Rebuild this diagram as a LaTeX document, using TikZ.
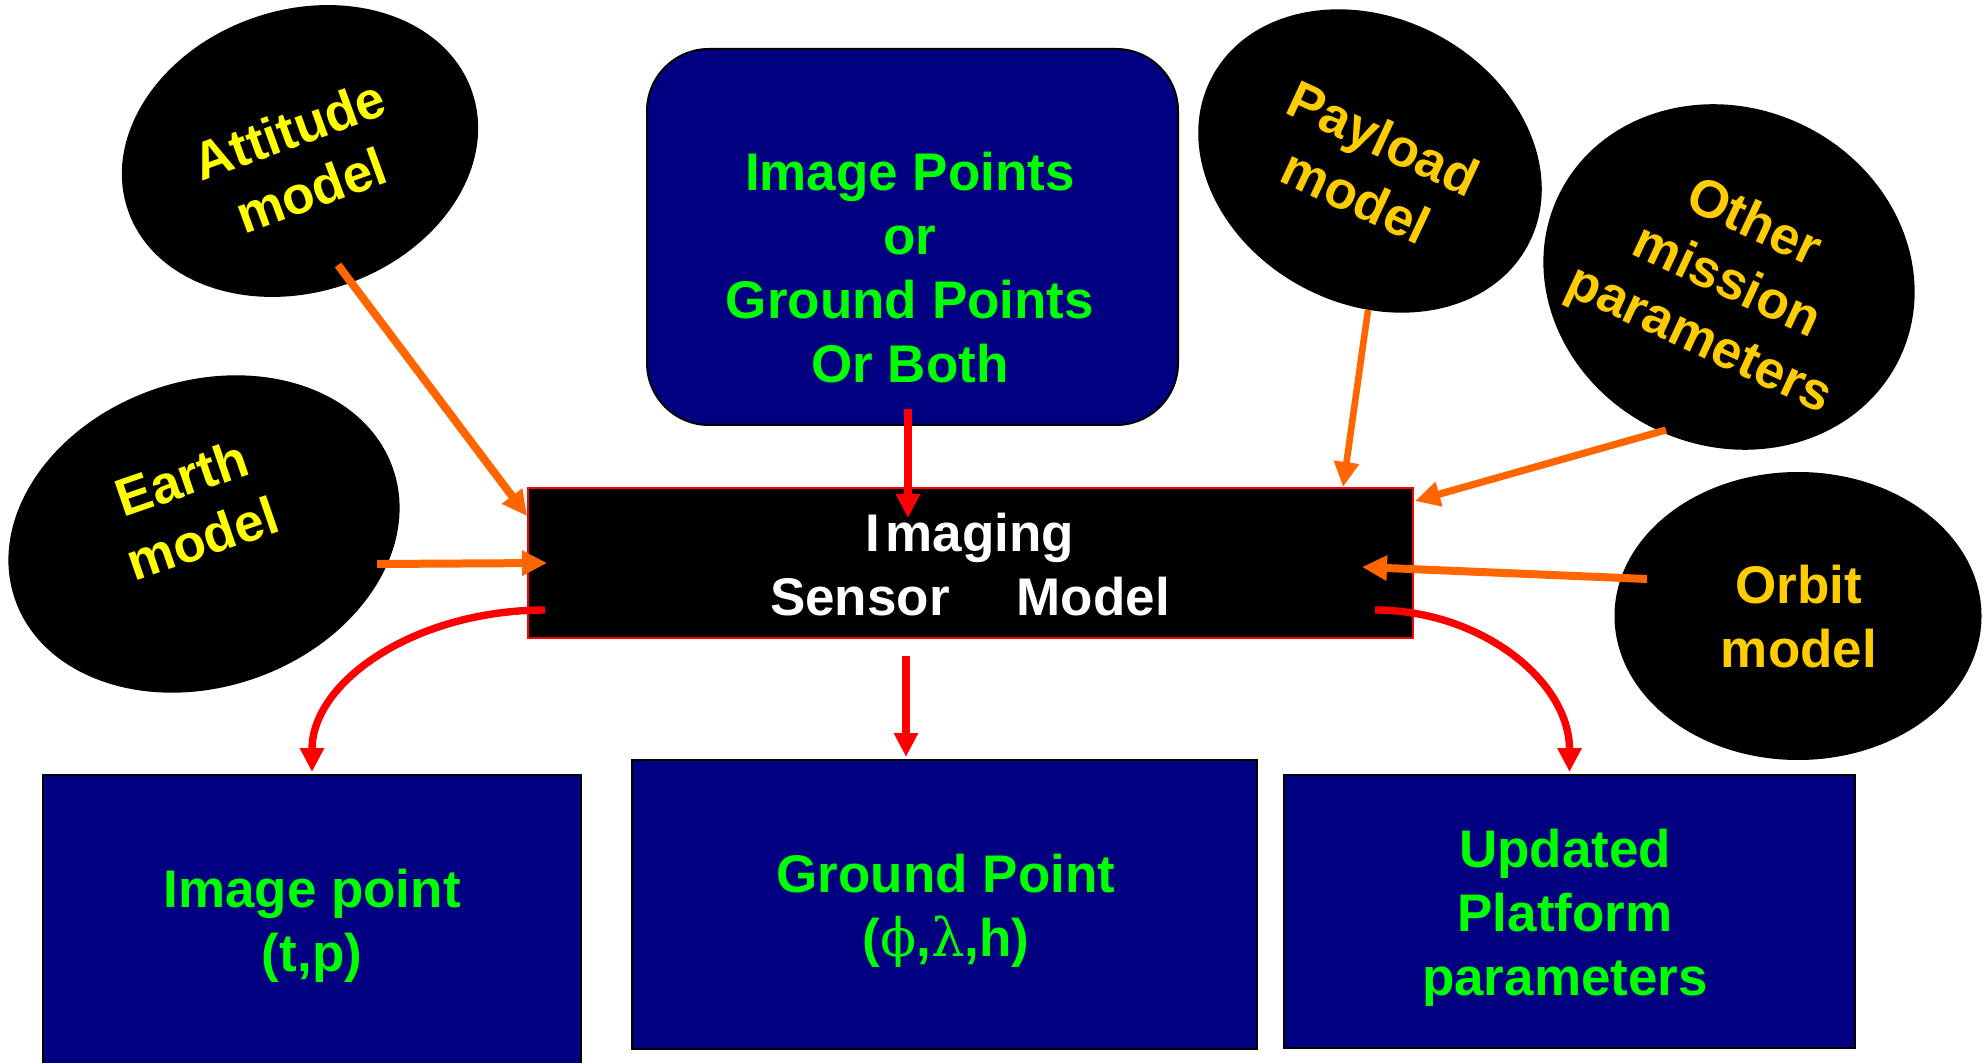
\documentclass[tikz,border=0pt]{standalone}
\usepackage{fontspec}
\setmainfont{Liberation Sans}
\newfontfamily\greekfont{DejaVu Serif}
\usetikzlibrary{shapes.geometric,arrows.meta,calc}

\definecolor{navyfill}{HTML}{000080}
\definecolor{greentext}{HTML}{00FF00}
\definecolor{yellowtext}{HTML}{FFFF00}
\definecolor{goldtext}{HTML}{FFCC00}
\definecolor{orangearrow}{HTML}{FF6600}
\definecolor{redarrow}{HTML}{FF0000}

\tikzset{
  bigtext/.style={font=\fontsize{26.5}{32}\selectfont\bfseries, align=center, inner sep=0pt},
  blob/.style={ellipse, fill=black, inner sep=0pt, draw=none},
  bluebox/.style={rectangle, fill=navyfill, draw=black, line width=1pt, inner sep=0pt},
  corebox/.style={rectangle, fill=black, draw=redarrow, line width=1pt, inner sep=0pt},
  feed/.style={draw=orangearrow, line width=4pt, -{Triangle[length=12.5pt,width=12pt]}},
  flow/.style={draw=redarrow, line width=3.7pt, -{Triangle[length=12pt,width=11.5pt]}},
}

\begin{document}
\begin{tikzpicture}[x=0.5pt,y=-0.5pt]
\useasboundingbox (0,0) rectangle (1986,1063);
\fill[white] (0,0) rectangle (1986,1063);

% ellipses
\node[blob, minimum width=182pt, minimum height=141pt, rotate=19] (att) at (300,151) {};
\node[blob, minimum width=200pt, minimum height=153pt, rotate=19] (earth) at (204,534) {};
\node[blob, minimum width=179pt, minimum height=143pt, rotate=-28] (pay) at (1370,161) {};
\node[blob, minimum width=189pt, minimum height=169pt, rotate=-25] (oth) at (1729,277) {};
\node[blob, minimum width=183.5pt, minimum height=144pt] (orb) at (1798,616) {};

% boxes
\node[bluebox, rounded corners=31pt, minimum width=265.5pt, minimum height=188pt] (src) at (912.5,237) {};
\node[corebox, minimum width=442.5pt, minimum height=75pt] (core) at (970.5,563) {};
\node[bluebox, minimum width=269pt, minimum height=145.5pt] (outimg) at (312,920.5) {};
\node[bluebox, minimum width=312.5pt, minimum height=144.5pt] (outgnd) at (944.5,904.5) {};
\node[bluebox, minimum width=285.5pt, minimum height=136.5pt] (outpar) at (1569.5,911.5) {};

% texts
\node[bigtext, text=yellowtext, rotate=20] (attT) at (300,160) {Attitude\\model};
\node[bigtext, text=yellowtext, rotate=19] (earthT) at (192,508) {Earth\\model};
\node[bigtext, text=goldtext, rotate=-25] (payT) at (1370,167) {Payload\\model};
\node[bigtext, text=goldtext, rotate=-25] (othT) at (1726,283) {Other\\mission\\parameters};
\node[bigtext, text=goldtext] (orbT) at (1799,617) {Orbit\\model};

\node[bigtext, text=greentext] (srcT) at (910,268) {Image Points\\or\\Ground Points\\Or Both};
\node[bigtext, text=white] (coreT) at (970,565) {I\kern2.5pt maging\\Sensor\hspace{33.5pt}Model};
\node[bigtext, text=greentext] (outimgT) at (312,926) {Image point\\(t,p)};
\node[bigtext, text=greentext] (outgndT) at (946,911) {Ground Point\\({\greekfont\mdseries ϕ},{\greekfont\mdseries λ},h)};
\node[bigtext, text=greentext] (outparT) at (1565,918) {Updated\\Platform\\parameters};

% orange inputs
\draw[feed] ($(att.center)+(38,114)$) -- ($(core.north west)+(0,29)$);
\draw[feed] ($(earth.center)+(173,30)$) -- ($(core.north west)+(20,76)$);
\draw[feed, line width=3.3pt] ($(pay.center)+(-2,149)$) -- ($(core.north west)+(816,0)$);
\draw[feed, line width=3.6pt] ($(oth.center)+(-63,153)$) -- ($(core.north east)+(1,14)$);
\draw[feed] ($(orb.center)+(-151,-37)$) -- ($(core.north east)+(-52,80)$);

% red flows
\draw[flow] ($(src.south)+(-4.5,-17)$) -- ($(core.north)+(-62.5,31)$);
\draw[flow] ($(core.south)+(-64.5,17)$) -- ($(outgnd.north)+(-38.5,-2)$);
\draw[flow] ($(core.south west)+(18,-29)$) .. controls +(-129,0) and +(0,-91) .. ($(outimg.north)+(0,-2)$);
\draw[flow] ($(core.south east)+(-39,-29)$) .. controls +(106,0) and +(0,-91) .. ($(outpar.north)+(0,-2)$);
\end{tikzpicture}
\end{document}
